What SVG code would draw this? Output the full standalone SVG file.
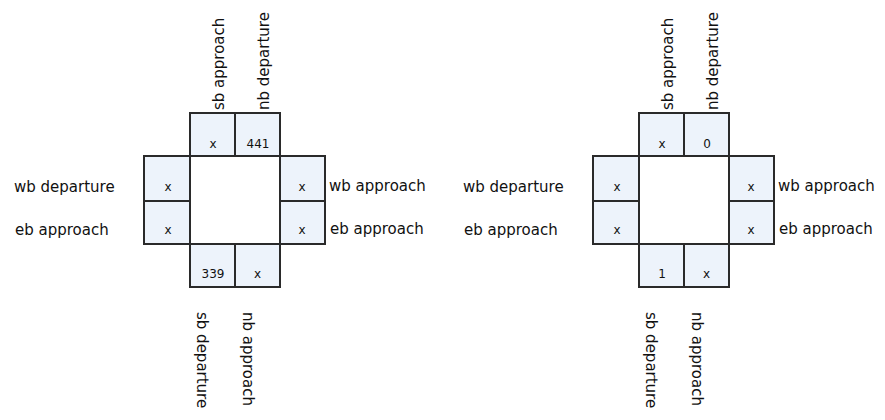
<svg xmlns="http://www.w3.org/2000/svg" width="885" height="420" viewBox="0 0 885 420">
<style>
.box{fill:#edf3fb;stroke:#2a2a2a;stroke-width:2}
.ctr{fill:#fff;stroke:#2a2a2a;stroke-width:2}
.v{font-family:"DejaVu Sans",sans-serif;font-size:12px;fill:#111;text-anchor:middle}
.lb{font-family:"DejaVu Sans",sans-serif;font-size:15px;fill:#111}
</style>
<rect width="885" height="420" fill="#fff"/>
<defs>
<g id="inter">
  <rect class="ctr" x="190" y="156" width="90" height="88"/>
  <g id="top-left-box"><rect class="box" x="190" y="113" width="45" height="43"/></g>
  <g id="top-right-box"><rect class="box" x="235" y="113" width="45" height="43"/></g>
  <g id="left-top-box"><rect class="box" x="144" y="156" width="46" height="45"/><text class="v" x="168" y="191">x</text></g>
  <g id="left-bot-box"><rect class="box" x="144" y="201" width="46" height="43"/><text class="v" x="168" y="234">x</text></g>
  <g id="right-top-box"><rect class="box" x="280" y="156" width="45" height="45"/><text class="v" x="302" y="191">x</text></g>
  <g id="right-bot-box"><rect class="box" x="280" y="201" width="45" height="43"/><text class="v" x="302" y="234">x</text></g>
  <g id="bot-left-box"><rect class="box" x="190" y="244" width="45" height="43"/></g>
  <g id="bot-right-box"><rect class="box" x="235" y="244" width="45" height="43"/><text class="v" x="257.5" y="278">x</text></g>
  <text class="v" x="213" y="148">x</text>
  <text class="lb" x="14" y="192">wb departure</text>
  <text class="lb" x="15" y="235">eb approach</text>
  <text class="lb" x="329" y="191">wb approach</text>
  <text class="lb" x="330" y="234">eb approach</text>
  <text class="lb" transform="translate(224,110) rotate(-90)">sb approach</text>
  <text class="lb" transform="translate(269,110) rotate(-90)">nb departure</text>
  <text class="lb" transform="translate(197,312) rotate(90)">sb departure</text>
  <text class="lb" transform="translate(243,312) rotate(90)">nb approach</text>
</g>
</defs>
<g id="intersection-1">
  <use href="#inter"/>
  <text class="v" x="258" y="148">441</text>
  <text class="v" x="213" y="278">339</text>
</g>
<g id="intersection-2" transform="translate(449,0)">
  <use href="#inter"/>
  <text class="v" x="258" y="148">0</text>
  <text class="v" x="213" y="278">1</text>
</g>
<g id="connectors"/>
</svg>
